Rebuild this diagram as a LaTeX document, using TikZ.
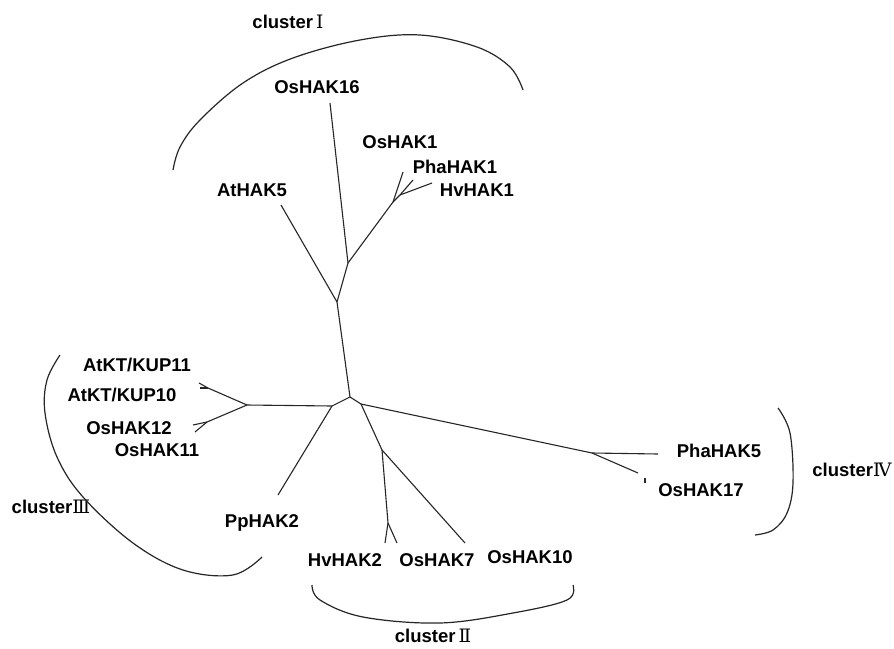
\documentclass[tikz,border=0pt]{standalone}
\usepackage{fontspec}
\setmainfont{Liberation Sans}
\newfontfamily\rn{DejaVu Serif}
\begin{document}
\begin{tikzpicture}[x=1pt,y=-1pt,
  br/.style={line width=1.1pt,black!85},
  arc/.style={line width=1.2pt,black!85},
  lab/.style={inner sep=0pt,font=\fontsize{18.5}{20}\selectfont\bfseries}]
\useasboundingbox[fill=white] (0,0) rectangle (894,648);
% internal nodes
\coordinate (nA) at (348,263);
\coordinate (nB) at (337,302);
\coordinate (nC) at (393,202);
\coordinate (nC2) at (400,195);
\coordinate (nT) at (350,397);
\coordinate (nL) at (332,406);
\coordinate (nR) at (361,404);
\coordinate (nK) at (247,405);
\coordinate (nK1) at (208,388);
\coordinate (nK2) at (207,422);
\coordinate (nE) at (382,450);
\coordinate (nF) at (388,523);
\coordinate (nG) at (592,453);
% leaves
\coordinate (l16) at (330,103);
\coordinate (lAt5) at (281,205);
\coordinate (lOs1) at (403,172);
\coordinate (lPh1) at (413,180);
\coordinate (lHv1) at (432,183);
\coordinate (lK11) at (199,383);
\coordinate (lK10) at (200,388);
\coordinate (lO12) at (193,425);
\coordinate (lO11) at (195,432);
\coordinate (lPp) at (278,495);
\coordinate (lHv2) at (385,543);
\coordinate (lO7) at (397,543);
\coordinate (lO10) at (465,543);
\coordinate (lPh5) at (658,454);
\coordinate (lO17) at (638,473);
\coordinate (tk1) at (645,478);
\coordinate (tk2) at (645,483);
% branches
\draw[br] (l16) -- (nA) -- (nB) -- (nT);
\draw[br] (lAt5) -- (nB);
\draw[br] (nA) -- (nC) -- (lOs1);
\draw[br] (nC) -- (nC2) -- (lPh1);
\draw[br] (nC2) -- (lHv1);
\draw[br] (nT) -- (nL) -- (nK);
\draw[br] (nT) -- (nR);
\draw[br] (nK) -- (nK1) -- (lK11);
\draw[br] (nK1) -- (lK10);
\draw[br] (nK) -- (nK2) -- (lO12);
\draw[br] (nK2) -- (lO11);
\draw[br] (nL) -- (lPp);
\draw[br] (nR) -- (nE) -- (nF) -- (lHv2);
\draw[br] (nF) -- (lO7);
\draw[br] (nE) -- (lO10);
\draw[br] (nR) -- (nG) -- (lPh5);
\draw[br] (nG) -- (lO17);
\draw[br] (tk1) -- (tk2);
% labels
\node[lab] (tOs16) at (317,87) {OsHAK16};
\node[lab] (tOs1) at (400,142) {OsHAK1};
\node[lab] (tPh1) at (455,167) {PhaHAK1};
\node[lab] (tHv1) at (477,190) {HvHAK1};
\node[lab] (tAt5) at (252,190) {AtHAK5};
\node[lab] (tK11) at (137,365) {AtKT/KUP11};
\node[lab] (tK10) at (122,395) {AtKT/KUP10};
\node[lab] (tO12) at (129,428) {OsHAK12};
\node[lab] (tO11) at (157,450) {OsHAK11};
\node[lab] (tPp) at (262,523) {PpHAK2};
\node[lab] (tHv2) at (345,560) {HvHAK2};
\node[lab] (tO7) at (437,560) {OsHAK7};
\node[lab] (tO10) at (530,557) {OsHAK10};
\node[lab] (tPh5) at (719,451) {PhaHAK5};
\node[lab] (tO17) at (701,490) {OsHAK17};
% cluster labels
\node[lab] (c1) at (288,22) {cluster\,{\rn\mdseries Ⅰ}};
\node[lab] (c2) at (433,636) {cluster\,{\rn\mdseries Ⅱ}};
\node[lab] (c3) at (51,507) {cluster{\rn\mdseries Ⅲ}};
\node[lab] (c4) at (852,470) {cluster{\rn\mdseries Ⅳ}};
% cluster arcs
\draw[arc] plot[smooth,tension=0.6] coordinates {(173,170) (180,147) (200,120) (243,83) (293,58) (360,40) (420,35) (477,47) (510,67) (523,90)};
\draw[arc] plot[smooth,tension=0.6] coordinates {(60,355) (47,380) (45,413) (57,457) (83,497) (133,543) (183,570) (233,575) (262,557)};
\draw[arc] plot[smooth,tension=0.6] coordinates {(312,585) (320,600) (363,617) (440,623) (513,613) (567,600) (573,585)};
\draw[arc] plot[smooth,tension=0.6] coordinates {(778,408) (790,433) (793,483) (787,513) (773,530) (755,535)};
\end{tikzpicture}
\end{document}
